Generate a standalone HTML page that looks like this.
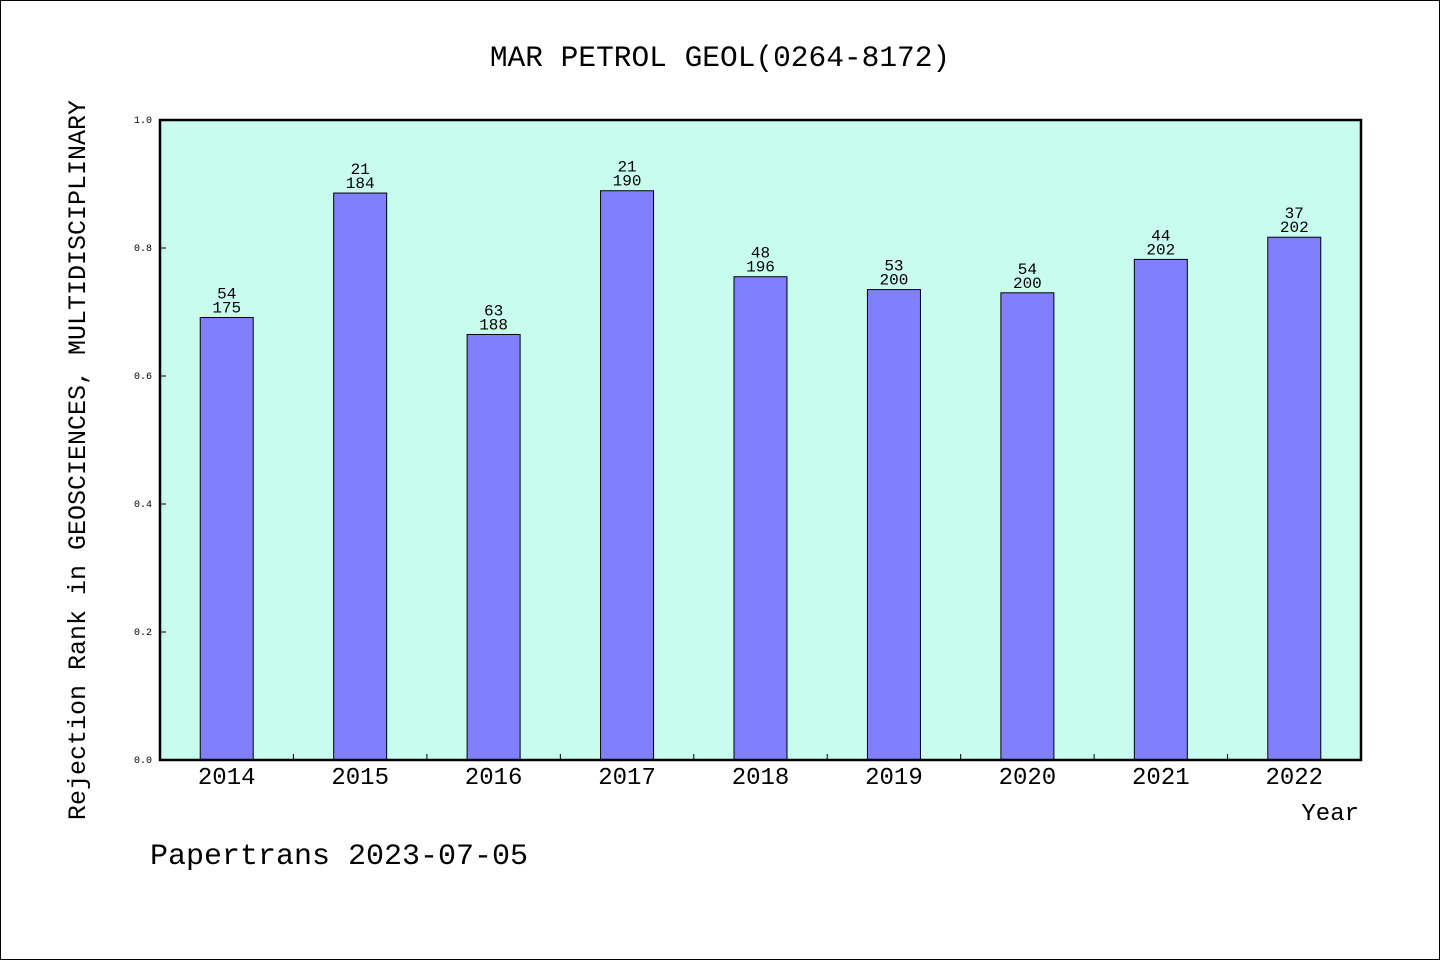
<!DOCTYPE html>
<html><head><meta charset="utf-8"><style>
html,body{margin:0;padding:0;background:#fff}
svg{display:block}
text{font-family:"Liberation Mono","WenQuanYi Zen Hei",monospace;fill:#000}
</style></head><body>
<svg id="chart" width="1440" height="960" xmlns="http://www.w3.org/2000/svg">
<rect x="0.5" y="0.5" width="1439" height="959" fill="#fff" stroke="#000"/>
<text x="720" y="66" font-size="29.5" text-anchor="middle">MAR PETROL GEOL(0264-8172)</text>
<rect x="160" y="120" width="1201" height="640" fill="#c8fcee"/>
<g id="bars"></g>
<rect x="160" y="120" width="1201" height="640" fill="none" stroke="#000" stroke-width="2.5"/>
<text transform="translate(85,460) rotate(-90)" font-size="25" text-anchor="middle">Rejection Rank in GEOSCIENCES, MULTIDISCIPLINARY</text>
<text x="1359" y="820" font-size="24" text-anchor="end">Year</text>
<text x="150" y="864" font-size="30">Papertrans 2023-07-05</text>
</svg>
<script>
const years=['2014','2015','2016','2017','2018','2019','2020','2021','2022'];
const ranks=[54,21,63,21,48,53,54,44,37];
const totals=[175,184,188,190,196,200,200,202,202];
const yTicks=[0,0.2,0.4,0.6,0.8,1.0];
const NS='http://www.w3.org/2000/svg';
const L=160,R=1361,T=120,B=760;
const bw=(R-L)/years.length;
const xs=i=>L+bw*(i+0.5);
const ys=v=>B-v*(B-T);
const g=document.getElementById('bars');
const svg=document.getElementById('chart');
function mk(tag,at,p){const e=document.createElementNS(NS,tag);for(const k in at)e.setAttribute(k,at[k]);(p||g).appendChild(e);return e;}
years.forEach((y,i)=>{
  const v=1-ranks[i]/totals[i];
  const r=mk('rect',{x:xs(i)-26.5,y:ys(v),width:53,height:B-ys(v),fill:'#8080ff',stroke:'#000','stroke-width':1});
  
  
  const t1=mk('text',{x:xs(i),y:ys(v)-19,'font-size':16,'text-anchor':'middle'});t1.textContent=ranks[i];
  
  
  const t2=mk('text',{x:xs(i),y:ys(v)-5,'font-size':16,'text-anchor':'middle'});t2.textContent=totals[i];
  
  
  const xl=mk('text',{x:xs(i),y:784,'font-size':24,'text-anchor':'middle'},svg);xl.textContent=y;
  
  
  if(i>0){const tk=mk('line',{x1:L+bw*i,x2:L+bw*i,y1:B,y2:B-6,stroke:'#000'},svg);
  
  }
});
yTicks.forEach(v=>{
  const tk=mk('line',{x1:L,x2:L+6,y1:ys(v),y2:ys(v),stroke:'#000'},svg);
  
  
  const t=mk('text',{x:152,y:ys(v)+3,'font-size':10,'text-anchor':'end'},svg);t.textContent=v.toFixed(1);
  
  
});
</script>
</body></html>
